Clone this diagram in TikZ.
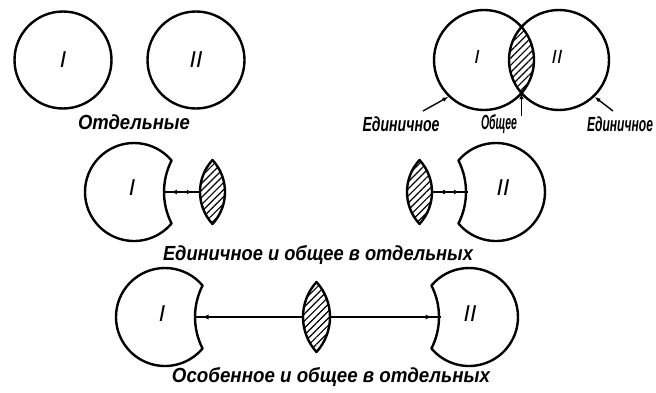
\documentclass[tikz,border=0pt]{standalone}
\usepackage{fontspec}
\setmainfont{Liberation Sans}
\usetikzlibrary{patterns.meta,decorations.markings,arrows.meta}

% label text stretched to a given width, slightly taller than set
\newcommand\lbltext[2]{\resizebox{#1}{1.2\height}{\fontsize{17}{18}\selectfont\bfseries\itshape #2}}

\tikzset{
  outline/.style={line width=2.4pt, line join=round},
  ring/.style={circle, draw, outline, inner sep=0pt, minimum size=#1},
  numeral/.style={font=\fontsize{23}{23}\selectfont\itshape},
  smallnum/.style={font=\fontsize{19}{19}\selectfont\itshape},
  hatch/.style={pattern={Lines[angle=45,distance=5pt,line width=1.2pt]}},
  link/.style={line width=1.5pt},
  pointer/.style={line width=1.4pt, -{Latex[length=6pt,width=4.5pt]}},
  twomarks/.style={link, postaction={decorate}, decoration={markings,
      mark=at position 0.38 with {\arrow{Latex[length=5pt,width=5pt,reversed]}},
      mark=at position 0.78 with {\arrow{Latex[length=5pt,width=5pt]}}}},
  tipnear/.style={link, postaction={decorate}, decoration={markings,
      mark=at position 1 with {\arrow{Latex[length=7pt,width=5pt]}}}},
  % circle with a concave bite on its right side
  pics/biteright/.style={code={
    \draw[outline] (40:49) arc[start angle=40,end angle=320,radius=49pt]
      arc[start angle=206.9,end angle=153.1,radius=69.6pt] -- cycle;
    \coordinate (-in) at (28.5,0);}},
  % circle with a concave bite on its left side
  pics/biteleft/.style={code={
    \draw[outline] (140:49) arc[start angle=140,end angle=-140,radius=49pt]
      arc[start angle=-26.9,end angle=26.9,radius=69.6pt] -- cycle;
    \coordinate (-in) at (-28.5,0);}},
  % hatched lens of half width #1 and half height #2
  pics/lens/.style 2 args={code={
    \pgfmathsetmacro\lensR{(#2*#2+#1*#1)/(2*#1)}
    \pgfmathsetmacro\lensA{asin(#2/\lensR)}
    \draw[outline, hatch] (0,#2)
      arc[start angle=180-\lensA, end angle=180+\lensA, radius=\lensR pt]
      arc[start angle=-\lensA, end angle=\lensA, radius=\lensR pt] -- cycle;
    \coordinate (-w) at (-#1,0);
    \coordinate (-e) at (#1,0);}},
}

\begin{document}
\begin{tikzpicture}[x=1pt,y=1pt]
\useasboundingbox (0,0) rectangle (656,392);

% ---- separate circles ----
\node[ring=97pt] (sepA) at (63,332) {};
\node[numeral] (sepAn) at (sepA) {I};
\node[ring=97pt] (sepB) at (196,332) {};
\node[numeral] (sepBn) at (sepB) {II};
\node (sepLbl) at (134,270) {\lbltext{112pt}{Отдельные}};

% ---- overlapping circles ----
\begin{scope}
  \clip (484,332) circle[radius=50];
  \fill[hatch] (559,332) circle[radius=50];
\end{scope}
\node[ring=100pt] (ovA) at (484,332) {};
\node[ring=100pt] (ovB) at (559,332) {};
\node[smallnum] (ovAn) at (477,335) {I};
\node[smallnum] (ovBn) at (557,335) {II};
\coordinate (ovLow) at (521.5,299);

\node (lblSingA) at (401,268) {\lbltext{77pt}{Единичное}};
\node (lblCommon) at (499,268) {\lbltext{36pt}{Общее}};
\node (lblSingB) at (620,268) {\lbltext{66pt}{Единичное}};
\coordinate (tailA) at (423,281);
\coordinate (tailC) at (521.5,276);
\coordinate (tailB) at (613,281);
\draw[pointer] (tailA) -- (ovA.226);
\draw[pointer] (tailC) -- (ovLow);
\draw[pointer] (tailB) -- (ovB.-46);

% ---- single and common, separated ----
\pic (midA) at (134,200) {biteright};
\node[numeral] (midAn) at (132,204) {I};
\pic (midL) at (212.5,200) {lens={12.5}{32}};
\pic (midR) at (419.5,200) {lens={12.5}{32}};
\pic (midB) at (496,200) {biteleft};
\node[numeral] (midBn) at (503,204) {II};
\draw[twomarks] (midA-in) -- (midL-w);
\draw[twomarks] (midB-in) -- (midR-e);
\node (midLbl) at (318,137) {\lbltext{310pt}{Единичное и общее в отдельных}};

% ---- particular and common, separated ----
\pic (lowA) at (165,75) {biteright};
\node[numeral] (lowAn) at (162,78) {I};
\pic (lowL) at (316.5,75) {lens={13.5}{35}};
\pic (lowB) at (469,75) {biteleft};
\node[numeral] (lowBn) at (470,78) {II};
\draw[tipnear] (lowL-w) -- ([xshift=8pt]lowA-in);
\draw[link] (lowL-w) -- (lowA-in);
\draw[tipnear] (lowL-e) -- ([xshift=-8pt]lowB-in);
\draw[link] (lowL-e) -- (lowB-in);
\node (lowLbl) at (331,15) {\lbltext{318pt}{Особенное и общее в отдельных}};
\end{tikzpicture}
\end{document}
